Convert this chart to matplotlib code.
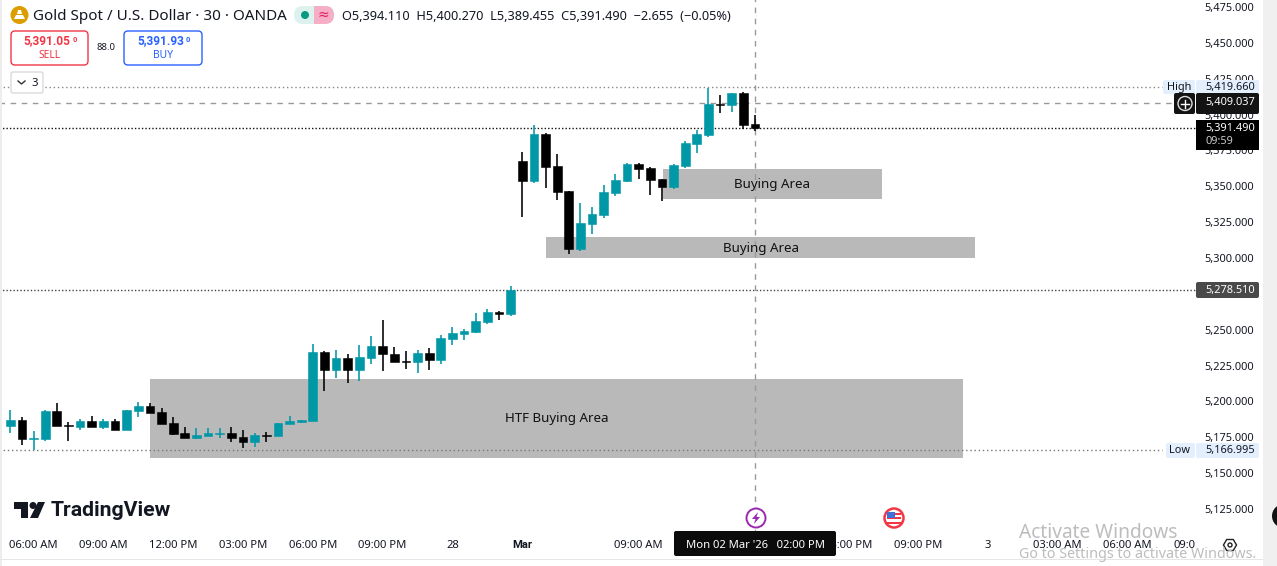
import matplotlib
matplotlib.use("Agg")
import matplotlib.pyplot as plt
from matplotlib.patches import Rectangle, Circle, FancyBboxPatch, Polygon
from matplotlib.transforms import ScaledTranslation

plt.rcParams['font.family'] = ['Noto Sans', 'DejaVu Sans']

# ---------- data ----------
opens = [5183.6,5187.8,5174.5,5174.5,5194,5184.3,5182.9,5187.1,5182.9,5187.1,5180.8,5194,5197.5,5193.3,5185.7,5178.7,
         5175.2,5176.6,5178.2,5178.7,5175.9,5172.4,5177.3,5176.6,5185,5186,
         5187.1,5235.2,5222.7,5231,5222.7,5231,5239.4,5233.8,5228.9,5228.2,5234.5,5229.6,5244.3,5247.8,5249.2,5256.1,5263.1,5261.7,
         5368.4,5354.5,5387.3,5364.9,5347.5,5307,5324.5,5330.8,5346.1,5354.5,5366.3,5363.5,5355.9,5350.3,5364.9,5380.3,5386.6,5408.2,5407.5,5415.9,5394.11]
highs = [5194.7,5189.9,5180.1,5194.7,5199.6,5186.4,5188.5,5190.6,5188.5,5188.5,5194.7,5200.3,5199.6,5196.1,5189.9,5182.9,
         5182.2,5182.2,5182.2,5182.9,5180.8,5178.7,5179.4,5185.7,5190.6,5188,
         5240.8,5235.9,5236.6,5233.8,5240.1,5246.4,5257.5,5238.7,5235.9,5236.6,5238,5247.1,5252.6,5251.2,5262.4,5265.2,5263.8,5281.2,
         5374.7,5393.5,5388,5373.3,5347.5,5339.1,5336.3,5351.7,5359.4,5367,5367,5364.2,5355.9,5366.3,5382.4,5390.1,5419.3,5414.5,5415.9,5416.6,5400.27]
lows = [5178.7,5170.3,5166.9,5173.1,5183.6,5173.1,5180.8,5182.9,5181.5,5180.8,5180.8,5189.9,5192.7,5185,5177.3,5175.2,
        5174.5,5176.6,5175.2,5172.4,5168.2,5168.9,5172.4,5176.6,5185,5185.3,
        5187.1,5208,5217.1,5213.6,5215,5226.8,5222,5228.2,5223.3,5220.6,5222.7,5226.8,5240.1,5243.6,5248.5,5254.7,5257.5,5260.3,
        5329.4,5353.1,5349.6,5341.2,5303.6,5305.7,5317.5,5328.7,5344,5353.8,5355.9,5344.7,5340.5,5348.9,5363.5,5374,5385.2,5401.9,5402.6,5390.7,5389.455]
closes = [5187.8,5174.5,5175,5194,5183.6,5183.8,5187.1,5182.9,5187.1,5180.8,5194.7,5197.5,5192.7,5185,5178,5175.2,
          5177.3,5178.7,5178.7,5175.2,5172.4,5177.3,5176.9,5185.7,5187.1,5187.6,
          5235.2,5222.7,5231,5222.7,5231.7,5239.4,5233.8,5228.2,5228.5,5234.5,5229.6,5245,5248.5,5249.9,5256.8,5263.1,5261.7,5278.5,
          5354.5,5387.3,5364.2,5346.8,5307,5325.2,5331.5,5346.8,5355.2,5366.3,5362.8,5355.2,5350.3,5365.6,5381,5387.3,5408.2,5407.7,5415.9,5393.5,5391.49]

price_ticks = [5475,5450,5425,5400,5375,5350,5325,5300,5250,5225,5200,5175,5150,5125]
time_pos = [2,8,14,20,26,32,38,44,54,72,78,84,90,96]
time_labels = ['06:00 AM','09:00 AM','12:00 PM','03:00 PM','06:00 PM','09:00 PM','28','Mar',
               '09:00 AM','06:00 PM','09:00 PM','3','03:00 AM','06:00 AM']
zone_names = ['Buying Area','Buying Area','HTF Buying Area']
zone_left = [56.1,46.04,12.0]
zone_right = [74.9,82.9,81.9]
zone_top = [5362.8,5315.4,5216.4]
zone_bottom = [5341.9,5300.7,5161.3]
zone_label_x = [65.5,64.5,47.0]
high_level, cross_level, last_level, prev_level, low_level = 5419.66, 5409.037, 5391.49, 5278.51, 5166.995
cross_bar = 64

TEAL = '#0097A7'
BLACK = '#000000'
W, H = 1277, 566

fig = plt.figure(figsize=(W/100, H/100), dpi=100, facecolor='white')
ax = fig.add_axes([0, 0, 1, 1], facecolor='white')
ax.set_xlim(-0.885, 108.86)
ax.set_ylim(5085.9, 5480.6)
for s in ax.spines.values():
    s.set_visible(False)

# zones
for nm, l, r, t, b, lx in zip(zone_names, zone_left, zone_right, zone_top, zone_bottom, zone_label_x):
    ax.add_patch(Rectangle((l, b), r-l, t-b, facecolor='#B9B9B9', edgecolor='none', zorder=1))
    ax.text(lx, (t+b)/2 - 0.4, nm, ha='center', va='center', fontsize=9.6, color='#111111', zorder=4)

# levels
ax.hlines(high_level, -1, 99, color='#888888', lw=1, linestyles=(0, (1, 2)), zorder=1.5)
ax.hlines(low_level, -1, 99, color='#777777', lw=1, linestyles=(0, (1, 2)), zorder=1.5)
ax.hlines(cross_level, -1, 100, color='#999999', lw=1, linestyles=(0, (4, 4)), zorder=1.5)
ax.hlines(last_level, -1, 102, color='#111111', lw=1, linestyles=(0, (1, 1.5)), zorder=1.5)
ax.hlines(prev_level, -1, 102, color='#444444', lw=1, linestyles=(0, (1, 1.5)), zorder=1.5)
ax.vlines(cross_bar, 5100, 5481, color='#999999', lw=1, linestyles=(0, (4, 4)), zorder=1.5)

# candles
xs = list(range(len(opens)))
cols = [TEAL if c >= o else BLACK for o, c in zip(opens, closes)]
ax.vlines(xs, lows, highs, colors=cols, lw=1.15, zorder=3)
ax.bar(xs, [abs(c-o) for o, c in zip(opens, closes)], bottom=[min(o, c) for o, c in zip(opens, closes)],
       width=0.75, color=cols, edgecolor=cols, linewidth=0.4, zorder=3)

# axes ticks, inside the figure
ax.yaxis.tick_right()
ax.set_yticks(price_ticks)
ax.set_yticklabels([f'{p:,.3f}' for p in price_ticks], fontsize=7.9, color='#131722')
ax.tick_params(axis='y', length=0, pad=-52.2)
ax.set_xticks(time_pos)
ax.set_xticklabels(time_labels, fontsize=8.1, color='#131722')
ax.tick_params(axis='x', length=0, pad=-18.6)
for t in ax.get_yticklabels():
    t.set_transform(t.get_transform() + ScaledTranslation(0, 1/100, fig.dpi_scale_trans))
for t, lb in zip(ax.get_xticklabels(), time_labels):
    if lb == 'Mar':
        t.set_fontfamily('Roboto')
        t.set_fontweight('bold')

# ---------- pixel-space overlay ----------
ui = fig.add_axes([0, 0, 1, 1], facecolor='none', zorder=5)
ui.set_xlim(0, W); ui.set_ylim(H, 0); ui.axis('off')

ui.add_patch(Rectangle((0, 0), 2, H, fc='#EDEDED', ec='none'))
ui.add_patch(Rectangle((1263, 0), 14, H, fc='#F0F0F0', ec='none'))
ui.add_patch(Rectangle((0, 559), 1263, 1, fc='#E6E6E6', ec='none'))
ui.add_patch(Circle((1284, 516), 12, fc='#111111', ec='none'))

def tag(x0, y0, x1, y1, fc):
    ui.add_patch(FancyBboxPatch((x0+1, y0+1), x1-x0-2, y1-y0-2, boxstyle='round,pad=1,rounding_size=2', fc=fc, ec='none'))

ax_fs = 7.9
# High / Low tags
tag(1163, 80, 1195, 94, '#E3EFFD'); tag(1196, 80, 1259, 94, '#E3EFFD')
ui.text(1179, 87.5, 'High', ha='center', va='center', fontsize=ax_fs, color='#131722')
ui.text(1205, 87.5, '5,419.660', ha='left', va='center', fontsize=ax_fs, color='#131722')
tag(1166, 443, 1195, 458, '#E3EFFD'); tag(1196, 443, 1259, 458, '#E3EFFD')
ui.text(1180, 450.5, 'Low', ha='center', va='center', fontsize=ax_fs, color='#131722')
ui.text(1205, 450, '5,166.995', ha='left', va='center', fontsize=ax_fs, color='#131722')
# crosshair tag
tag(1174, 93, 1195, 114, '#131313'); tag(1196, 93, 1259, 114, '#131313')
ui.add_patch(Circle((1185, 103.5), 7, fc='none', ec='#DDDDDD', lw=1))
ui.plot([1181, 1189], [103.5, 103.5], color='white', lw=1)
ui.plot([1185, 1185], [99.5, 107.5], color='white', lw=1)
ui.text(1205, 103, '5,409.037', ha='left', va='center', fontsize=ax_fs, color='white')
# last price tag
ui.add_patch(Rectangle((1196, 120), 63, 30, fc='#000000', ec='none'))
ui.text(1205, 128, '5,391.490', ha='left', va='center', fontsize=ax_fs, color='white')
ui.text(1205, 142, '09:59', ha='left', va='center', fontsize=ax_fs, color='#C8C8C8')
# previous level tag
tag(1196, 282, 1259, 298, '#4A4A4A')
ui.text(1205, 290, '5,278.510', ha='left', va='center', fontsize=ax_fs, color='white')

# header
ui.add_patch(Circle((19.5, 15), 9, fc='#DB9E00', ec='none'))
ui.add_patch(Polygon([[14, 19], [25, 19], [23, 15], [16, 15]], fc='white', ec='none'))
ui.add_patch(Polygon([[17, 14], [22, 14], [21, 10], [18, 10]], fc='white', ec='none'))
ui.text(33, 16, 'Gold Spot / U.S. Dollar · 30 · OANDA', ha='left', va='center', fontsize=10.95, color='#131722')
ui.add_patch(FancyBboxPatch((294, 6), 40, 18, boxstyle='round,pad=0,rounding_size=9', fc='#DDF2EF', ec='none'))
ui.add_patch(FancyBboxPatch((316, 6), 18, 18, boxstyle='round,pad=0,rounding_size=9', fc='#F5AEC6', ec='none'))
ui.add_patch(Rectangle((314, 6), 9, 18, fc='#F5AEC6', ec='none'))
ui.add_patch(Circle((305, 15), 4, fc='#089981', ec='none'))
ui.text(323, 15, '≈', ha='center', va='center', fontsize=10, color='#E91E63')
ui.text(342, 16, 'O5,394.110  H5,400.270  L5,389.455  C5,391.490  −2.655  (−0.05%)', ha='left', va='center', fontsize=9.2, color='#131722')

def order_btn(x0, x1, col, price, label):
    ui.add_patch(FancyBboxPatch((x0+3, 34), x1-x0-6, 28, boxstyle='round,pad=3,rounding_size=4', fc='white', ec=col, lw=1))
    c = (x0+x1)/2
    ui.text(c-2.5, 41, price, ha='center', va='center', fontsize=8.6, color=col, fontweight='bold', family='Roboto')
    ui.text(c+25, 39.5, '0', ha='center', va='center', fontsize=5.5, color=col, fontweight='bold', family='Roboto')
    ui.text(c, 55, label, ha='center', va='center', fontsize=7.4, color=col)

order_btn(11, 88, '#F23645', '5,391.05', 'SELL')
order_btn(124, 202, '#2962FF', '5,391.93', 'BUY')
ui.text(106, 47.5, '88.0', ha='center', va='center', fontsize=6.8, color='#131722')
ui.add_patch(FancyBboxPatch((13, 74), 28, 17, boxstyle='round,pad=2,rounding_size=2', fc='white', ec='#DADADA', lw=1))
ui.plot([18, 21.5, 25], [81, 84, 81], color='#333333', lw=1)
ui.text(34.5, 83, '3', ha='center', va='center', fontsize=8.2, color='#131722')

# logo
ui.add_patch(Polygon([[14, 502], [28, 502], [28, 518], [21, 518], [21, 509], [14, 509]], fc='#131722', ec='none'))
ui.add_patch(Circle((33, 505.5), 3.5, fc='#131722', ec='none'))
ui.add_patch(Polygon([[38, 502], [45, 502], [38, 518], [30, 518]], fc='#131722', ec='none'))
ui.text(51, 511, 'TradingView', ha='left', va='center', fontsize=15.3, fontweight='bold', family='Roboto', color='#131722')

# events
ui.add_patch(Circle((756, 518), 9.5, fc='white', ec='#9C27B0', lw=1.4))
ui.add_patch(Polygon([[758, 512], [752, 519], [755.5, 519], [754, 524], [760, 517], [756.5, 517]], fc='#9C27B0', ec='none'))
ui.add_patch(Circle((894, 518), 9.5, fc='white', ec='#F23645', lw=1.8))
for yy in (512.5, 517, 521.5):
    ui.add_patch(Rectangle((887, yy), 14, 2.2, fc='#F23645', ec='none'))
ui.add_patch(Rectangle((887, 511.5), 8, 6, fc='#3F6FD8', ec='none'))

# time axis extras
ui.add_patch(FancyBboxPatch((676, 533), 158, 21, boxstyle='round,pad=2,rounding_size=2', fc='#0B0B0B', ec='none'))
ui.text(755, 545.5, "Mon 02 Mar '26   02:00 PM", ha='center', va='center', fontsize=8.1, color='white')
ui.text(1173, 545, '09:0', ha='left', va='center', fontsize=8.1, color='#131722')
ui.add_patch(Polygon([[1223.5, 545], [1226.7, 539.5], [1233.3, 539.5], [1236.5, 545], [1233.3, 550.5], [1226.7, 550.5]], fc='white', ec='#222222', lw=1))
ui.add_patch(Circle((1230, 545), 2, fc='white', ec='#222222', lw=1))

# watermark
ui.text(1019, 533, 'Activate Windows', ha='left', va='center', fontsize=13.8, color='#BDBDBD')
ui.text(1019, 555, 'Go to Settings to activate Windows.', ha='left', va='center', fontsize=10.25, color='#BDBDBD')

fig.savefig('out.png', dpi=100, facecolor='white')
